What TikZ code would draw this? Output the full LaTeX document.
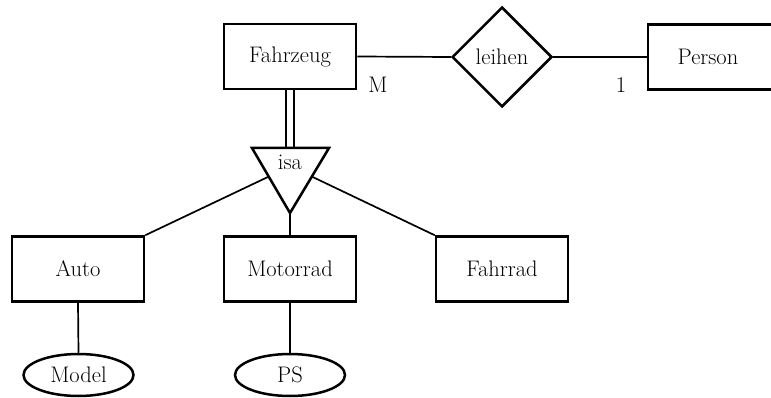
\documentclass[tikz,border=0pt]{standalone}
\usetikzlibrary{shapes.geometric,calc}
\begin{document}
\begin{tikzpicture}[x=1pt,y=-1pt,
  entity/.style={draw,line width=2.5pt,minimum width=132pt,minimum height=65pt,inner sep=0pt,font=\fontsize{22.5}{27}\selectfont},
  rel/.style={draw,diamond,aspect=1,minimum size=100pt,inner sep=0pt,line width=2.5pt,font=\fontsize{22.5}{27}\selectfont},
  attr/.style={draw,ellipse,line width=2.5pt,minimum width=110pt,minimum height=42pt,inner sep=0pt,font=\fontsize{22.5}{27}\selectfont},
  conn/.style={line width=1.7pt},
  lbl/.style={font=\fontsize{22.5}{27}\selectfont,inner sep=0pt}]
\useasboundingbox (0,0) rectangle (771,398);
\node[entity] (fz) at (290,56.5) {Fahrzeug};
\node[rel] (lh) at (502,57) {leihen};
\node[entity] (ps) at (714,57) {Person\hspace*{12pt}};
\node[entity] (auto) at (78,269) {Auto};
\node[entity] (mr) at (290,269) {Motorrad};
\node[entity] (fr) at (502,269) {Fahrrad};
\node[attr] (model) at (78.5,375) {Model};
\node[attr] (psa) at (290,375) {PS};
% isa triangle
\coordinate (tl) at (252,148);
\coordinate (tr) at (329,148);
\coordinate (tb) at (290,213);
\draw[line width=2.5pt,line join=miter] (tl) -- (tr) -- (tb) -- cycle;
\node[lbl] (isa) at (290,162) {isa};
\coordinate (il) at ($(tl)!0.44!(tb)$);
\coordinate (ir) at ($(tr)!0.44!(tb)$);
\coordinate (tt) at (290,148);
% connectors
\draw[conn] (fz.east) -- (lh.west);
\draw[conn] (lh.east) -- (ps.west);
\draw[conn] ([xshift=-4.3pt]fz.south) -- ([xshift=-4.3pt]tt);
\draw[conn] ([xshift=4.3pt]fz.south) -- ([xshift=4.3pt]tt);
\draw[conn] (il) -- (auto.north east);
\draw[conn] (ir) -- (fr.north west);
\draw[conn] (tb) -- (mr.north);
\draw[conn] (auto.south) -- (model.north);
\draw[conn] (mr.south) -- (psa.north);
\node[lbl] (m) at (378,85) {M};
\node[lbl] (one) at (621,85) {1};
\end{tikzpicture}
\end{document}
